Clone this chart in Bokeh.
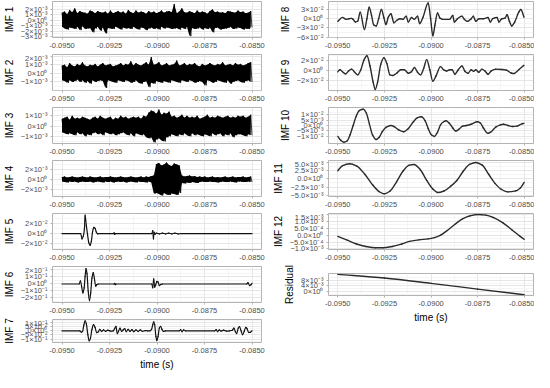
from bokeh.plotting import figure
from bokeh.layouts import column, row
from bokeh.models import Range1d, FixedTicker, CustomJSTickFormatter
from bokeh.embed import file_html
from bokeh.resources import INLINE
import numpy as np

# ---------------- data ----------------
T_START, T_END = -0.095, -0.085
X_TICKS = [-0.095, -0.0925, -0.09, -0.0875, -0.085]
X_LABELS = ["-0.0950", "-0.0925", "-0.0900", "-0.0875", "-0.0850"]

NOISE_UNIT = 1e-4
imf1 = [14,-12,16,-15,11,-17,19,-13,15,-14,22,-16,13,-12,17,-18,15,-11,14,-16,
        12,-15,18,-14,16,-22,13,-15,17,-12,15,-19,14,-13,16,-24,12,-14,18,-15,
        13,-16,15,-12,17,-14,14,-17,16,-13,12,-15,19,-14,15,-16,13,-12,18,-15,
        14,-17,16,-13,15,-14,12,-18,17,-15,14,-13,16,-16,13,-14,15,-17,18,-12,
        14,-15,16,-13,17,-14,15,-16,30,-15,13,-14,16,-17,22,-13,15,-16,14,-12,
        17,-29,15,-14,13,-16,18,-15,14,-13,16,-17,15,-14,12,-16,17,-13,20,-22,
        15,-14,16,-13,14,-17,15,-16,13,-15,17,-14,16,-12,15,-16,14,-15,18,-13,
        15,-14,16,-17,13,-15,14,-16,17,-13]
imf2 = [9,-8,10,-9,7,-11,12,-8,9,-10,8,-9,11,-7,9,-10,13,-8,9,-11,
        8,-9,10,-12,9,-8,11,-10,8,-9,10,-8,12,-9,9,-17,10,-8,11,-9,
        8,-10,9,-11,10,-8,12,-9,9,-10,11,-8,10,-9,14,-11,9,-10,12,-8,
        10,-11,9,-12,11,-10,13,-9,10,-16,19,-11,10,-12,11,-9,13,-10,9,-11,
        10,-9,12,-10,9,-11,10,-8,11,-9,15,-10,9,-11,10,-8,12,-9,9,-10,
        11,-8,10,-9,12,-11,9,-10,8,-9,11,-10,9,-14,10,-8,12,-9,10,-11,
        9,-10,11,-8,10,-9,13,-10,9,-11,10,-8,11,-12,9,-10,12,-9,10,-8,
        11,-10,9,-11,10,-9,12,-8,13,-10]
imf3 = [7,-6,8,-7,9,-8,6,-7,10,-8,7,-9,8,-6,7,-8,9,-7,8,-10,
        7,-8,6,-9,8,-7,9,-6,7,-8,10,-7,8,-9,7,-6,8,-7,9,-8,
        6,-7,8,-9,7,-8,10,-7,8,-6,9,-8,7,-9,8,-7,9,-10,8,-7,
        9,-8,7,-9,10,-8,9,-11,13,-12,15,-11,14,-16,12,-13,16,-12,11,-14,
        13,-15,12,-11,14,-10,9,-8,10,-9,8,-10,9,-8,11,-9,8,-7,10,-9,
        8,-10,9,-7,8,-9,10,-8,7,-9,8,-10,9,-8,11,-9,8,-10,9,-7,
        8,-9,10,-8,9,-7,8,-10,9,-8,10,-9,8,-7,9,-11,8,-9,10,-8,
        9,-8,10,-9,8,-10,9,-8,11,-9]
imf4 = [5,-4,6,-5,4,-6,5,-4,6,-5,5,-4,4,-6,5,-5,6,-4,5,-5,
        4,-5,6,-4,5,-6,4,-5,5,-4,6,-5,4,-6,5,-4,5,-5,6,-4,
        5,-6,4,-5,5,-4,6,-5,5,-4,4,-6,5,-5,6,-4,5,-5,4,-6,
        5,-4,6,-5,4,-5,6,-6,5,-4,7,-6,8,-28,31,-27,33,-29,28,-32,
        30,-27,34,-30,29,-31,27,-28,32,-29,30,-31,28,-27,8,-7,6,-8,7,-6,
        8,-7,6,-5,7,-6,5,-7,6,-5,5,-4,6,-5,4,-5,5,-4,6,-5,
        4,-5,5,-6,4,-5,5,-4,6,-5,4,-5,5,-4,6,-5,4,-6,5,-4,
        5,-4,6,-5,4,-5,5,-4,6,-5]

imf5 = [(-0.09500,0),(-0.094015,0),(-0.093949,-0.0106),(-0.093883,-0.0056),(-0.093818,0.010),
        (-0.093785,0.036),(-0.093752,0.0256),(-0.093719,0.016),(-0.093654,-0.0025),(-0.093588,-0.018),
        (-0.093522,-0.023),(-0.093456,-0.015),(-0.093391,0.0037),(-0.093325,0.0119),(-0.093259,0.010),
        (-0.093194,0.003),(-0.093128,-0.0006),(-0.093062,0),(-0.092291,0),(-0.092258,0.0015),
        (-0.092225,-0.0015),(-0.092192,0),(-0.090271,0),(-0.090222,0.0056),(-0.090189,-0.0106),
        (-0.090156,0.003),(-0.090107,-0.0015),(-0.090041,0.0008),(-0.089877,-0.0008),(-0.089713,0.0008),
        (-0.089548,-0.0008),(-0.089384,0.0008),(-0.089220,-0.0008),(-0.089056,0.0008),(-0.088892,-0.0008),
        (-0.088727,0),(-0.08500,0)]
imf6 = [(-0.09500,0),(-0.094097,0),(-0.094031,0.046),(-0.093966,-0.037),(-0.093900,-0.129),
        (-0.093834,-0.055),(-0.093785,0.106),(-0.093736,0.221),(-0.093686,0.152),(-0.093621,-0.101),
        (-0.093555,-0.239),(-0.093489,-0.124),(-0.093424,0.083),(-0.093358,0.161),(-0.093292,0.074),
        (-0.093227,-0.032),(-0.093161,-0.009),(-0.093095,0),(-0.092258,0),(-0.092225,0.01),
        (-0.092192,-0.01),(-0.092159,0),(-0.090271,0),(-0.090222,-0.055),(-0.090172,0.074),
        (-0.090123,-0.046),(-0.090074,-0.018),(-0.090008,0.037),(-0.089943,0.028),(-0.089877,-0.023),
        (-0.089795,-0.005),(-0.089713,0),(-0.085279,0),(-0.085213,0.018),(-0.085131,-0.023),
        (-0.085066,-0.014),(-0.08500,0.009)]
imf7 = [(-0.09500,0),(-0.094064,0),(-0.093982,-0.017),(-0.093916,-0.007),(-0.093851,0.067),
        (-0.093785,0.12),(-0.093719,0.083),(-0.093637,-0.05),(-0.093571,-0.12),(-0.093506,-0.093),
        (-0.093424,0.017),(-0.093342,0.073),(-0.093259,0.04),(-0.093177,-0.023),(-0.093095,-0.013),
        (-0.093013,0.017),(-0.092915,-0.007),(-0.092816,0.01),(-0.092701,-0.007),(-0.092586,0.007),
        (-0.092455,-0.003),(-0.092307,0),(-0.092225,0.027),(-0.092159,0.053),(-0.092094,-0.033),
        (-0.092028,-0.007),(-0.091946,0.033),(-0.091864,-0.007),(-0.091782,0.01),(-0.091700,0.027),
        (-0.091617,-0.01),(-0.091519,0.017),(-0.091420,-0.007),(-0.091322,0.013),(-0.091223,-0.01),
        (-0.091108,0.01),(-0.090993,-0.007),(-0.090878,0.01),(-0.090764,-0.007),(-0.090632,0.003),
        (-0.090501,0),(-0.090369,0),(-0.090287,0.017),(-0.090222,0.073),(-0.090172,0.107),
        (-0.090123,0.073),(-0.090057,-0.067),(-0.090008,-0.117),(-0.089943,-0.067),(-0.089877,0.033),
        (-0.089811,0.053),(-0.089745,0.02),(-0.089663,-0.007),(-0.089548,0),(-0.088826,0),
        (-0.088760,0.013),(-0.088678,-0.01),(-0.088596,0.01),(-0.088498,0),(-0.086954,0),
        (-0.086888,0.013),(-0.086806,-0.01),(-0.086724,0.01),(-0.086626,-0.003),(-0.086494,0.007),
        (-0.086346,-0.003),(-0.086182,0),(-0.086034,0.007),(-0.085952,0.033),(-0.085870,-0.013),
        (-0.085805,-0.033),(-0.085722,0.033),(-0.085657,0.05),(-0.085575,0),(-0.085493,-0.047),
        (-0.085411,-0.007),(-0.085328,0.04),(-0.085263,0.027),(-0.085181,-0.02),(-0.085099,-0.02),
        (-0.08500,0)]
imf8 = [(-0.09500,-0.0086),(-0.09475,0.0043),(-0.09456,-0.0021),(-0.09442,0.0),(-0.09426,0.001),
        (-0.09418,-0.002),(-0.09406,-0.0107),(-0.09393,-0.0075),(-0.09380,0.0214),(-0.09357,-0.0353),
        (-0.09344,0.0),(-0.09332,0.0375),(-0.09319,0.0107),(-0.09308,-0.0193),(-0.09294,-0.0235),
        (-0.09281,0.0),(-0.09266,0.030),(-0.09253,0.004),(-0.09242,-0.019),(-0.09229,0.005),
        (-0.09215,0.016),(-0.09199,-0.013),(-0.09183,-0.005),(-0.09166,0.0),(-0.09150,-0.002),
        (-0.09133,0.0086),(-0.09122,-0.0107),(-0.09105,0.004),(-0.09089,-0.002),(-0.09072,0.0086),
        (-0.09061,-0.016),(-0.09043,0.005),(-0.09015,0.051),(-0.09002,0.0),(-0.08990,-0.0556),
        (-0.08979,-0.021),(-0.08965,0.019),(-0.08952,0.002),(-0.08936,-0.002),(-0.08916,-0.002),
        (-0.08900,-0.002),(-0.08883,0.0107),(-0.08875,-0.0107),(-0.08858,0.0),(-0.08834,0.0086),
        (-0.08821,-0.002),(-0.08804,-0.0086),(-0.08784,0.0),(-0.08773,0.0086),(-0.08760,-0.0086),
        (-0.08743,0.0),(-0.08719,0.0),(-0.08694,0.004),(-0.08682,-0.0107),(-0.08669,0.0),
        (-0.08645,0.004),(-0.08636,-0.0107),(-0.08620,0.0),(-0.08603,0.002),(-0.08592,0.0128),
        (-0.08579,-0.0086),(-0.08567,-0.0235),(-0.08551,-0.0107),(-0.08529,0.0214),(-0.08518,0.030),
        (-0.08501,0.005)]
imf9 = [(-0.09500,-0.0019),(-0.094885,0.0019),(-0.094753,-0.0019),(-0.094589,-0.0063),(-0.094424,-0.0006),
        (-0.094260,0.0031),(-0.094095,-0.0031),(-0.093931,-0.0081),(-0.093766,0.0019),(-0.093602,0.0206),
        (-0.093437,0.0294),(-0.093273,0.0094),(-0.093108,-0.0219),(-0.092993,-0.0369),(-0.092862,-0.0219),
        (-0.092697,0.0125),(-0.092533,0.0256),(-0.092368,0.0144),(-0.092204,-0.0081),(-0.092039,-0.0094),
        (-0.091825,-0.0044),(-0.091628,0.0019),(-0.091430,0.0019),(-0.091217,-0.005),(-0.091052,-0.0019),
        (-0.090888,0.0063),(-0.090723,-0.0031),(-0.090559,-0.0081),(-0.090394,0.0044),(-0.090230,0.0219),
        (-0.090065,0.0019),(-0.089901,-0.0206),(-0.089736,-0.0106),(-0.089490,0.0081),(-0.089325,0.0019),
        (-0.089161,-0.0006),(-0.088996,0.0019),(-0.088865,0.0019),(-0.088716,-0.0069),(-0.088535,0.0019),
        (-0.088338,0.0094),(-0.088173,-0.0013),(-0.088009,-0.005),(-0.087844,0.0019),(-0.087713,-0.0013),
        (-0.087597,0.0019),(-0.087433,-0.0031),(-0.087268,0.0031),(-0.087104,-0.0006),(-0.086940,-0.0069),
        (-0.086775,-0.0006),(-0.086528,0.0031),(-0.086199,0.0025),(-0.085953,0.0013),(-0.085706,-0.0044),
        (-0.085541,-0.0056),(-0.085295,0.0019),(-0.085015,0.0106)]
imf10 = [(-0.09500,-0.0102),(-0.094836,-0.0139),(-0.094671,-0.0157),(-0.094507,-0.0145),(-0.094342,-0.0087),
         (-0.094178,0.0),(-0.094013,0.0087),(-0.093849,0.0139),(-0.093635,0.0151),(-0.093470,0.0116),
         (-0.093306,0.0015),(-0.093141,-0.0087),(-0.092944,-0.0131),(-0.092779,-0.011),(-0.092615,-0.0058),
         (-0.092417,-0.0017),(-0.092154,0.0),(-0.091957,-0.0012),(-0.091710,-0.0044),(-0.091463,-0.0058),
         (-0.091217,-0.0029),(-0.090970,0.0029),(-0.090723,0.0073),(-0.090509,0.0081),(-0.090312,0.0044),
         (-0.090148,-0.0029),(-0.089983,-0.0087),(-0.089818,-0.0102),(-0.089654,-0.0064),(-0.089489,0.0006),
         (-0.089325,0.0035),(-0.089193,0.0044),(-0.089029,0.0023),(-0.088831,-0.0023),(-0.088667,-0.0052),
         (-0.088502,-0.0035),(-0.088305,-0.0006),(-0.088091,0.0),(-0.087844,0.0012),(-0.087515,0.0035),
         (-0.087351,0.0023),(-0.087186,-0.0023),(-0.086940,-0.0073),(-0.086775,-0.0058),(-0.086528,-0.0015),
         (-0.086282,0.0006),(-0.086118,0.0012),(-0.085871,0.0),(-0.085624,-0.0009),(-0.085378,-0.0006),
         (-0.085131,0.0015),(-0.085015,0.002)]
imf11 = [(-0.09500,0.0025),(-0.094744,0.0040),(-0.094370,0.0046),(-0.093978,0.0039),(-0.093552,0.0014),
         (-0.093126,-0.0019),(-0.092785,-0.0039),(-0.092513,-0.0046),(-0.092189,-0.0037),(-0.091848,-0.0009),
         (-0.091508,0.0023),(-0.091167,0.0042),(-0.090911,0.0044),(-0.090571,0.0028),(-0.090230,-0.0005),
         (-0.089889,-0.0032),(-0.089634,-0.0042),(-0.089293,-0.0037),(-0.088952,-0.0023),(-0.088612,-0.0005),
         (-0.088271,0.0023),(-0.087930,0.0044),(-0.087589,0.0050),(-0.087249,0.0042),(-0.086908,0.0014),
         (-0.086567,-0.0014),(-0.086227,-0.0032),(-0.085886,-0.0040),(-0.085460,-0.0037),(-0.085204,-0.0028),
         (-0.08500,-0.0011)]
imf12 = [(-0.09500,-0.00009),(-0.094498,-0.00036),(-0.093997,-0.00064),(-0.093495,-0.00082),(-0.092993,-0.00091),
         (-0.092575,-0.00091),(-0.092074,-0.00082),(-0.091572,-0.00064),(-0.091154,-0.00045),(-0.090652,-0.00034),
         (-0.090151,-0.00027),(-0.089816,-0.00018),(-0.089482,0.0),(-0.089147,0.00032),(-0.088729,0.00077),
         (-0.088311,0.00118),(-0.087893,0.00141),(-0.087475,0.00150),(-0.087057,0.00145),(-0.086639,0.00127),
         (-0.086137,0.00089),(-0.085635,0.00036),(-0.085217,-0.00009),(-0.08500,-0.00030)]
residual = [(-0.0950,0.0121),(-0.0925,0.0095),(-0.0900,0.0058),(-0.0875,0.0018),(-0.0850,-0.0022)]

# y tick values / labels per panel
Y_TICKS = {
    "IMF 1": ([-3e-3,-2e-3,-1e-3,0,1e-3,2e-3], ["\u22123\u00d710\u207b\u00b3","\u22122\u00d710\u207b\u00b3","\u22121\u00d710\u207b\u00b3","0\u00d710\u2070","1\u00d710\u207b\u00b3","2\u00d710\u207b\u00b3"]),
    "IMF 2": ([-2e-3,-1e-3,0,1e-3,2e-3], ["\u22122\u00d710\u207b\u00b3","\u22121\u00d710\u207b\u00b3","0\u00d710\u2070","1\u00d710\u207b\u00b3","2\u00d710\u207b\u00b3"]),
    "IMF 3": ([-1e-3,0,1e-3], ["\u22121\u00d710\u207b\u00b3","0\u00d710\u2070","1\u00d710\u207b\u00b3"]),
    "IMF 4": ([-2e-3,0,2e-3], ["\u22122\u00d710\u207b\u00b3","0\u00d710\u2070","2\u00d710\u207b\u00b3"]),
    "IMF 5": ([-2e-2,0,2e-2], ["\u22122\u00d710\u207b\u00b2","0\u00d710\u2070","2\u00d710\u207b\u00b2"]),
    "IMF 6": ([-0.2,-0.1,0,0.1,0.2], ["\u22122\u00d710\u207b\u00b9","\u22121\u00d710\u207b\u00b9","0\u00d710\u2070","1\u00d710\u207b\u00b9","2\u00d710\u207b\u00b9"]),
    "IMF 7": ([-0.1,-0.05,0,0.05,0.1], ["\u22121\u00d710\u207b\u00b9","\u22125\u00d710\u207b\u00b2","0\u00d710\u2070","5\u00d710\u207b\u00b2","1\u00d710\u207b\u00b9"]),
    "IMF 8": ([-0.06,-0.03,0,0.03], ["\u22126\u00d710\u207b\u00b2","\u22123\u00d710\u207b\u00b2","0\u00d710\u2070","3\u00d710\u207b\u00b2"]),
    "IMF 9": ([-0.02,0,0.02], ["\u22122\u00d710\u207b\u00b2","0\u00d710\u2070","2\u00d710\u207b\u00b2"]),
    "IMF 10": ([-0.01,-0.005,0,0.005,0.01], ["\u22121\u00d710\u207b\u00b2","\u22125\u00d710\u207b\u00b3","0\u00d710\u2070","5\u00d710\u207b\u00b3","1\u00d710\u207b\u00b2"]),
    "IMF 11": ([-0.005,-0.0025,0,0.0025,0.005], ["\u22125.0\u00d710\u207b\u00b3","\u22122.5\u00d710\u207b\u00b3","0.0\u00d710\u2070","2.5\u00d710\u207b\u00b3","5.0\u00d710\u207b\u00b3"]),
    "IMF 12": ([-0.001,-0.0005,0,0.0005,0.001,0.0015], ["\u22121.0\u00d710\u207b\u00b3","\u22125.0\u00d710\u207b\u2074","0.0\u00d710\u2070","5.0\u00d710\u207b\u2074","1.0\u00d710\u207b\u00b3","1.5\u00d710\u207b\u00b3"]),
    "Residual": ([0,0.004,0.008], ["0\u00d710\u2070","4\u00d710\u207b\u00b3","8\u00d710\u207b\u00b3"]),
}

# ---------------- layout / style ----------------
Y_LIMS = {
    "IMF 1": (-0.00315, 0.00345), "IMF 2": (-0.00199, 0.00219), "IMF 3": (-0.0017, 0.0018),
    "IMF 4": (-0.0034, 0.0038), "IMF 5": (-0.031, 0.039), "IMF 6": (-0.265, 0.25),
    "IMF 7": (-0.14, 0.135), "IMF 8": (-0.061, 0.056), "IMF 9": (-0.039, 0.032),
    "IMF 10": (-0.0168, 0.0168), "IMF 11": (-0.0054, 0.0056), "IMF 12": (-0.00104, 0.00157),
    "Residual": (-0.0027, 0.0127),
}
X_LIM = (-0.0955, -0.0845)
FONT = "Liberation Sans"
BORDER = "#B3B3B3"
GRID = "#E0E0E0"
MINOR = "#EEEEEE"


def minor_of(ticks):
    ts = sorted(ticks)
    if len(ts) < 2:
        return []
    step = ts[1] - ts[0]
    return [ts[0] - step / 2] + [(a + b) / 2 for a, b in zip(ts[:-1], ts[1:])] + [ts[-1] + step / 2]


def fmt(ticks, labels):
    return CustomJSTickFormatter(args=dict(tv=list(ticks), tl=list(labels)), code="""
        for (let i = 0; i < tv.length; i++) {
            if (Math.abs(tv[i] - tick) <= 1e-12) { return tl[i]; }
        }
        return "";
    """)


def smooth_segments(x, y):
    """Monotone cubic (PCHIP) Bezier control points through the read points."""
    x = np.asarray(x, float)
    y = np.asarray(y, float)
    h = np.diff(x)
    d = np.diff(y) / h
    n = len(x)
    m = np.zeros(n)
    m[0], m[-1] = d[0], d[-1]
    for i in range(1, n - 1):
        if d[i - 1] * d[i] > 0:
            w1 = 2 * h[i] + h[i - 1]
            w2 = h[i] + 2 * h[i - 1]
            m[i] = (w1 + w2) / (w1 / d[i - 1] + w2 / d[i])
    return dict(x0=x[:-1], y0=y[:-1], x1=x[1:], y1=y[1:],
                cx0=x[:-1] + h / 3, cy0=y[:-1] + m[:-1] * h / 3,
                cx1=x[1:] - h / 3, cy1=y[1:] - m[1:] * h / 3)


def base_panel(name, width, height, frame_h, mb_top, mb_left, mb_right, last):
    p = figure(width=width, height=height, x_range=Range1d(*X_LIM), y_range=Range1d(*Y_LIMS[name]),
               output_backend="svg", toolbar_location=None,
               min_border_top=mb_top, min_border_bottom=height - mb_top - frame_h,
               min_border_left=mb_left, min_border_right=mb_right)
    p.background_fill_color = "white"
    p.border_fill_color = "white"
    p.outline_line_color = BORDER
    p.outline_line_width = 1

    xt = FixedTicker(ticks=X_TICKS, minor_ticks=minor_of(X_TICKS))
    yt_vals, yt_labs = Y_TICKS[name]
    yt = FixedTicker(ticks=yt_vals, minor_ticks=minor_of(yt_vals))
    p.xaxis.ticker = xt
    p.xgrid.ticker = xt
    p.yaxis.ticker = yt
    p.ygrid.ticker = yt
    p.xaxis.formatter = fmt(X_TICKS, X_LABELS)
    p.yaxis.formatter = fmt(yt_vals, yt_labs)

    for g in (p.xgrid, p.ygrid):
        g.grid_line_color = GRID
        g.grid_line_width = 0.8
        g.minor_grid_line_color = MINOR
        g.minor_grid_line_width = 0.6

    for ax in (p.xaxis[0], p.yaxis[0]):
        ax.axis_line_color = None
        ax.major_tick_line_color = BORDER
        ax.major_tick_out = 2
        ax.major_tick_in = 0
        ax.minor_tick_line_color = None
        ax.major_label_text_font = FONT
        ax.major_label_text_color = "#4D4D4D"
        ax.major_label_standoff = 1
        ax.axis_label_text_font = FONT
        ax.axis_label_text_font_size = "10px"
        ax.axis_label_text_font_style = "normal"
        ax.axis_label_text_color = "black"
        ax.axis_label_standoff = 3
    p.xaxis.major_label_text_font_size = "7.5px"
    p.yaxis.major_label_text_font_size = "7.5px"
    p.yaxis.axis_label = name
    if last:
        p.xaxis.axis_label = "time (s)"
    return p


def noise_panel(name, vals, **kw):
    p = base_panel(name, **kw)
    v = np.array(vals, dtype=float) * NOISE_UNIT
    t = np.linspace(T_START, T_END, len(v))
    # dense band between the read positive (upper) and negative (lower) excursions
    p.varea(x=t[0::2], y1=v[1::2], y2=v[0::2], fill_color="black", fill_alpha=1.0)
    p.line(t, v, line_color="black", line_width=0.8)
    return p


def curve_panel(name, pairs, lw, color, **kw):
    p = base_panel(name, **kw)
    a = np.array(pairs, dtype=float)
    seg = smooth_segments(a[:, 0], a[:, 1])
    p.bezier(line_color=color, line_width=lw, line_cap="round", **seg)
    return p


LW_L, LW_R = 269, 265
PITCH = 53
FH = 36
L = dict(width=LW_L, mb_left=39, mb_right=8)
R = dict(width=LW_R, mb_left=0, mb_right=1)

left = [
    noise_panel("IMF 1", imf1, height=PITCH, frame_h=FH, mb_top=1, last=False, **L),
    noise_panel("IMF 2", imf2, height=PITCH, frame_h=FH, mb_top=1, last=False, **L),
    noise_panel("IMF 3", imf3, height=PITCH, frame_h=FH, mb_top=1, last=False, **L),
    noise_panel("IMF 4", imf4, height=PITCH, frame_h=FH, mb_top=1, last=False, **L),
    curve_panel("IMF 5", imf5, 1.2, "#111111", height=PITCH, frame_h=FH, mb_top=1, last=False, **L),
    curve_panel("IMF 6", imf6, 1.2, "#111111", height=PITCH, frame_h=FH, mb_top=1, last=False, **L),
    curve_panel("IMF 7", imf7, 1.2, "#111111", height=54, frame_h=25, mb_top=1, last=True, **L),
]
right = [
    curve_panel("IMF 8", imf8, 1.4, "#2b2b2b", height=PITCH, frame_h=FH, mb_top=1, last=False, **R),
    curve_panel("IMF 9", imf9, 1.4, "#2b2b2b", height=PITCH, frame_h=FH, mb_top=1, last=False, **R),
    curve_panel("IMF 10", imf10, 1.4, "#2b2b2b", height=PITCH, frame_h=FH, mb_top=1, last=False, **R),
    curve_panel("IMF 11", imf11, 1.4, "#2b2b2b", height=PITCH, frame_h=FH, mb_top=1, last=False, **R),
    curve_panel("IMF 12", imf12, 1.4, "#2b2b2b", height=PITCH, frame_h=FH, mb_top=1, last=False, **R),
    curve_panel("Residual", residual, 1.4, "#2b2b2b", height=60, frame_h=25, mb_top=8, last=True, **R),
]

layout = row(column(*left, spacing=0), column(*right, spacing=0), spacing=0)

open("out.html", "w").write(file_html(layout, INLINE))
